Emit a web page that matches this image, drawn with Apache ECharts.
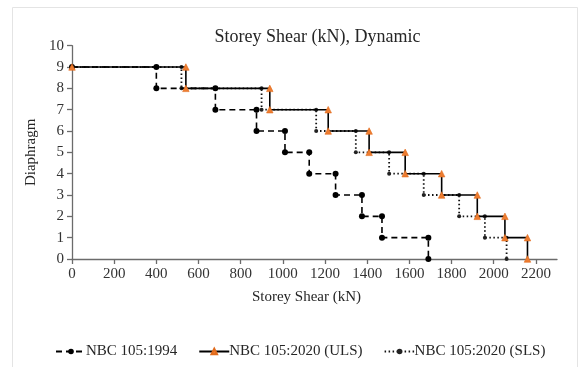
<!DOCTYPE html>
<html>
<head>
<meta charset="utf-8">
<script src="https://cdn.jsdelivr.net/npm/echarts@6/dist/echarts.min.js"></script>
<style>html,body{margin:0;padding:0;background:#fff}#c{width:578px;height:367px}</style>
</head>
<body>
<div id="c"></div>
<script>
// Diaphragm levels (top of each step) and storey shear at the end of each step (kN)
const levels = [9, 8, 7, 6, 5, 4, 3, 2, 1];
const nbc1994 = [400, 680, 875, 1010, 1125, 1250, 1375, 1470, 1690];
const nbc2020ULS = [540, 938, 1215, 1409, 1580, 1753, 1922, 2053, 2160];
const nbc2020SLS = [519, 899, 1158, 1346, 1504, 1668, 1836, 1958, 2061];
const seriesNames = ['NBC 105:1994', 'NBC 105:2020 (ULS)', 'NBC 105:2020 (SLS)'];
const xTicks = [0, 200, 400, 600, 800, 1000, 1200, 1400, 1600, 1800, 2000, 2200];
const yTicks = [0, 1, 2, 3, 4, 5, 6, 7, 8, 9, 10];

function stepPoints(vals) {
  const pts = [[0, levels[0]]];
  vals.forEach((v, i) => {
    pts.push([v, levels[i]]);
    pts.push([v, levels[i] - 1]);
  });
  return pts;
}

const serif = '"Liberation Serif", "Times New Roman", serif';
const chart = echarts.init(document.getElementById('c'), null, {renderer: 'canvas'});
chart.setOption({
  animation: false,
  backgroundColor: '#fff',
  graphic: [{
    type: 'rect', shape: {x: 12.5, y: 7.5, width: 565, height: 370},
    style: {fill: 'none', stroke: '#e4e4e4', lineWidth: 1}, silent: true, z: -1
  }, {
    type: 'text', x: 317.5, y: 37, silent: true,
    style: {text: 'Storey Shear (kN), Dynamic', fontFamily: serif, fontSize: 18,
      fill: '#262626', align: 'center', verticalAlign: 'middle'}
  }],
  grid: {left: 72, right: 21, top: 45.7, bottom: 108, containLabel: false},
  legend: {
    bottom: 3, left: 50, itemWidth: 30, itemHeight: 7, itemGap: 21,
    textStyle: {fontFamily: serif, fontSize: 15, color: '#262626', padding: [0, 0, 0, -5]},
    data: seriesNames
  },
  xAxis: {
    type: 'value', min: 0, max: 2300, interval: 100,
    name: 'Storey Shear (kN)', nameLocation: 'middle', nameGap: 31,
    nameTextStyle: {fontFamily: serif, fontSize: 15, color: '#262626', padding: [0, 16, 0, 0]},
    axisLine: {show: true, lineStyle: {color: '#6b6b6b', width: 1.3}},
    axisTick: {show: true, length: 5, customValues: xTicks, lineStyle: {color: '#6b6b6b', width: 1.3}},
    axisLabel: {customValues: xTicks, fontFamily: serif, fontSize: 15, color: '#333', margin: 8,
      formatter: v => String(v)},
    splitLine: {show: false}
  },
  yAxis: {
    type: 'value', min: 0, max: 10, interval: 1,
    name: 'Diaphragm', nameLocation: 'middle', nameGap: 33, nameRotate: 90,
    nameTextStyle: {fontFamily: serif, fontSize: 15, color: '#262626'},
    axisLine: {show: true, lineStyle: {color: '#6b6b6b', width: 1.3}},
    axisTick: {show: true, length: 5, customValues: yTicks, lineStyle: {color: '#6b6b6b', width: 1.3}},
    axisLabel: {customValues: yTicks, fontFamily: serif, fontSize: 15, color: '#333', margin: 8},
    splitLine: {show: false}
  },
  series: [
    {
      name: seriesNames[0], type: 'line', data: stepPoints(nbc1994),
      symbol: 'circle', symbolSize: 6,
      itemStyle: {color: '#000'},
      lineStyle: {color: '#000', width: 1.6, type: [6, 4]}, z: 3
    },
    {
      name: seriesNames[1], type: 'line', data: stepPoints(nbc2020ULS),
      symbol: 'triangle', symbolSize: 6.5,
      itemStyle: {color: '#ED7D31', borderColor: '#E06A1B', borderWidth: 0.6},
      lineStyle: {color: '#000', width: 1.6, type: 'solid'}, z: 4
    },
    {
      name: seriesNames[2], type: 'line', data: stepPoints(nbc2020SLS),
      symbol: 'circle', symbolSize: 4,
      itemStyle: {color: '#222'},
      lineStyle: {color: '#111', width: 1.8, type: [1.5, 2.5]}, z: 2
    }
  ]
});
</script>
</body>
</html>
